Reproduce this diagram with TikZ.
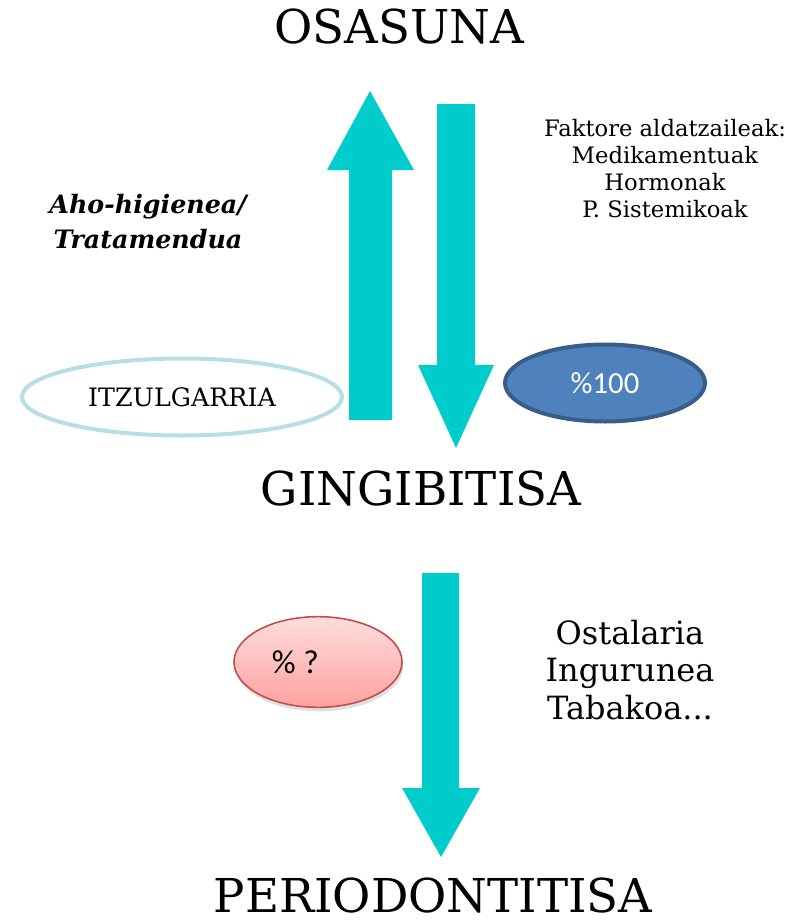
\documentclass[tikz,border=0pt]{standalone}
\usepackage{fontspec}
\setmainfont{DejaVu Serif}
\newfontfamily\calfont{Carlito}
\usetikzlibrary{shapes.geometric,shadows}

\definecolor{arrowcyan}{RGB}{0,204,204}
\definecolor{paleblue}{RGB}{183,222,227}
\definecolor{pctblue}{RGB}{79,129,189}
\definecolor{pctborder}{RGB}{56,93,138}
\definecolor{pinktop}{RGB}{255,221,221}
\definecolor{pinkbot}{RGB}{255,160,160}
\definecolor{pinkborder}{RGB}{192,80,77}

\tikzset{
  stagetitle/.style={font=\fontsize{35}{40}\selectfont, anchor=base, inner sep=0pt},
  blockarrow/.style={fill=arrowcyan, draw=none},
  sidenote/.style={align=center, anchor=north, inner sep=0pt},
}

\begin{document}
\begin{tikzpicture}[x=0.75pt, y=-0.75pt]
    \useasboundingbox (0,0) rectangle (804,924);

    % stages
    \node (osasuna) [stagetitle] at (399,44) {OSASUNA};
    \node (gingi) [stagetitle] at (421,505) {GINGIBITISA};
    \node (perio) [stagetitle] at (433,912) {PERIODONTITISA};

    % block arrows
    \fill[blockarrow] (349,420) -- (349,170) -- (327,170) -- (370,91)
        -- (414,170) -- (392,170) -- (392,420) -- cycle;
    \fill[blockarrow] (437,104) -- (475,104) -- (475,365) -- (494,365)
        -- (456,448) -- (418,365) -- (437,365) -- cycle;
    \fill[blockarrow] (422,573) -- (459,573) -- (459,788) -- (480,788)
        -- (441,857) -- (402,788) -- (422,788) -- cycle;

    % side notes
    \node (hygiene) [sidenote, font=\bfseries\itshape\fontsize{19}{26}\selectfont] at (148,194)
        {Aho-higienea/\\Tratamendua};
    \node (factors) [sidenote, font=\fontsize{17}{20.25}\selectfont] at (665,119)
        {Faktore aldatzaileak:\\Medikamentuak\\Hormonak\\P. Sistemikoak};
    \node (hostenv) [sidenote, font=\fontsize{24}{28}\selectfont] at (630,620)
        {Ostalaria\\Ingurunea\\Tabakoa...};

    % ellipses
    \node (revers) [ellipse, draw=paleblue, line width=3pt, inner sep=0pt,
        minimum width=240pt, minimum height=57.75pt,
        font=\fontsize{19}{22}\selectfont] at (182,397) {ITZULGARRIA};
    \node (hundred) [ellipse, draw=pctborder, fill=pctblue, line width=3pt, inner sep=0pt,
        minimum width=150pt, minimum height=57.75pt, text=white,
        font=\calfont\fontsize{23}{27}\selectfont] at (605,383) {\%100};
    \node (unknown) [ellipse, draw=pinkborder, line width=1.2pt, inner sep=0pt,
        top color=pinktop, bottom color=pinkbot,
        drop shadow={opacity=0.25, shadow xshift=1pt, shadow yshift=-3pt},
        minimum width=126pt, minimum height=68pt,
        font=\calfont\fontsize{25}{30}\selectfont] at (318,662) {\% ?\hspace*{34pt}};
\end{tikzpicture}
\end{document}
